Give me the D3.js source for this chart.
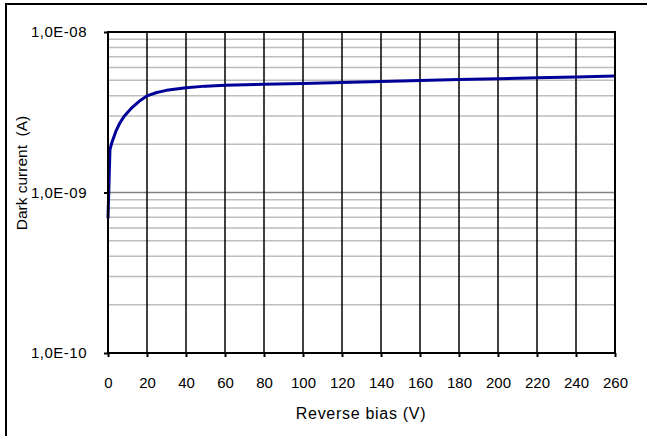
<!DOCTYPE html>
<html>
<head>
<meta charset="utf-8">
<script src="https://cdn.jsdelivr.net/npm/d3@7"></script>
<style>
  body { margin: 0; background: #fff; overflow: hidden; }
  svg { display: block; }
  text { font-family: "Liberation Sans", Arial, sans-serif; fill: #000; }
</style>
</head>
<body>
<div class="graph"></div>
<script>
// reverse bias (V) and measured dark current (A)
const bias = [0, 1, 2, 4, 6, 8, 10, 12, 16, 20, 25, 30, 40, 50, 60, 80, 100, 120, 140, 160, 180, 200, 220, 240, 260]
const darkCurrent = [6.9e-10, 1.85e-9, 2.05e-9, 2.4e-9, 2.7e-9, 2.95e-9, 3.15e-9, 3.35e-9, 3.7e-9, 4.0e-9, 4.2e-9, 4.33e-9,
    4.5e-9, 4.6e-9, 4.66e-9, 4.72e-9, 4.78e-9, 4.85e-9, 4.92e-9, 4.98e-9, 5.05e-9, 5.12e-9, 5.18e-9, 5.24e-9, 5.32e-9]
const xTicks = d3.range(0, 261, 20)
const yTicks = [1e-10, 1e-9, 1e-8]
const yTickLabels = ["1,0E-10", "1,0E-09", "1,0E-08"]

function drawChart() {
    const svg = d3.select(".graph").append("svg").attr("width", 647).attr("height", 436)
    const left = 108, top = 32, right = 615, bottom = 353

    // outer chart border (runs off the right and bottom of the picture)
    svg.append("rect").attr("x", 6).attr("y", 4).attr("width", 700).attr("height", 500)
        .attr("fill", "none").attr("stroke", "#000").attr("stroke-width", 2)

    const xScale = d3.scaleLinear().domain([0, 260]).range([left, right])
    const yScale = d3.scaleLog().domain([1e-10, 1e-8]).range([bottom, top])

    // minor horizontal gridlines 2..9 per decade
    const minor = []
    for (let e = -10; e < -8; e++) {
        for (let m = 2; m <= 9; m++) minor.push(m * Math.pow(10, e))
    }
    svg.append("g").selectAll("line").data(minor).join("line")
        .attr("x1", left).attr("x2", right)
        .attr("y1", d => yScale(d)).attr("y2", d => yScale(d))
        .attr("stroke", "#bdbdbd").attr("stroke-width", 1.5)
    svg.append("line")
        .attr("x1", left).attr("x2", right)
        .attr("y1", yScale(1e-9)).attr("y2", yScale(1e-9))
        .attr("stroke", "#808080").attr("stroke-width", 1.5)

    // vertical gridlines
    svg.append("g").selectAll("line").data(xTicks.slice(1, -1)).join("line")
        .attr("x1", d => xScale(d)).attr("x2", d => xScale(d))
        .attr("y1", top).attr("y2", bottom)
        .attr("stroke", "#000").attr("stroke-width", 1.5)

    const line = d3.line().x((d, i) => xScale(bias[i])).y(d => yScale(d))
    svg.append("path").datum(darkCurrent).attr("d", line)
        .attr("fill", "none").attr("stroke", "#000099").attr("stroke-width", 3)
        .attr("stroke-linejoin", "round")

    // plot frame
    svg.append("rect").attr("x", left).attr("y", top)
        .attr("width", right - left).attr("height", bottom - top)
        .attr("fill", "none").attr("stroke", "#000").attr("stroke-width", 2)

    // axes
    const xAxis = svg.append("g").attr("transform", "translate(0," + bottom + ")")
        .call(d3.axisBottom(xScale).tickValues(xTicks).tickSize(4).tickPadding(20).tickFormat(d => d))
    const yAxis = svg.append("g").attr("transform", "translate(" + left + ",0)")
        .call(d3.axisLeft(yScale).tickValues(yTicks).tickSize(4).tickPadding(17)
            .tickFormat((d, i) => yTickLabels[i]))
    for (const g of [xAxis, yAxis]) {
        g.select(".domain").remove()
        g.selectAll(".tick line").attr("stroke", "#000").attr("stroke-width", 2)
        g.selectAll("text").attr("font-size", 15)
    }
    yAxis.selectAll("text").attr("letter-spacing", 0.5)

    svg.append("text").attr("x", 361).attr("y", 419).attr("text-anchor", "middle")
        .attr("font-size", 16).attr("letter-spacing", 0.7).text("Reverse bias (V)")
    svg.append("text").attr("transform", "translate(27,173) rotate(-90)").attr("text-anchor", "middle")
        .attr("font-size", 15.5).style("white-space", "pre").text("Dark current  (A)")
}
drawChart()
</script>
</body>
</html>
